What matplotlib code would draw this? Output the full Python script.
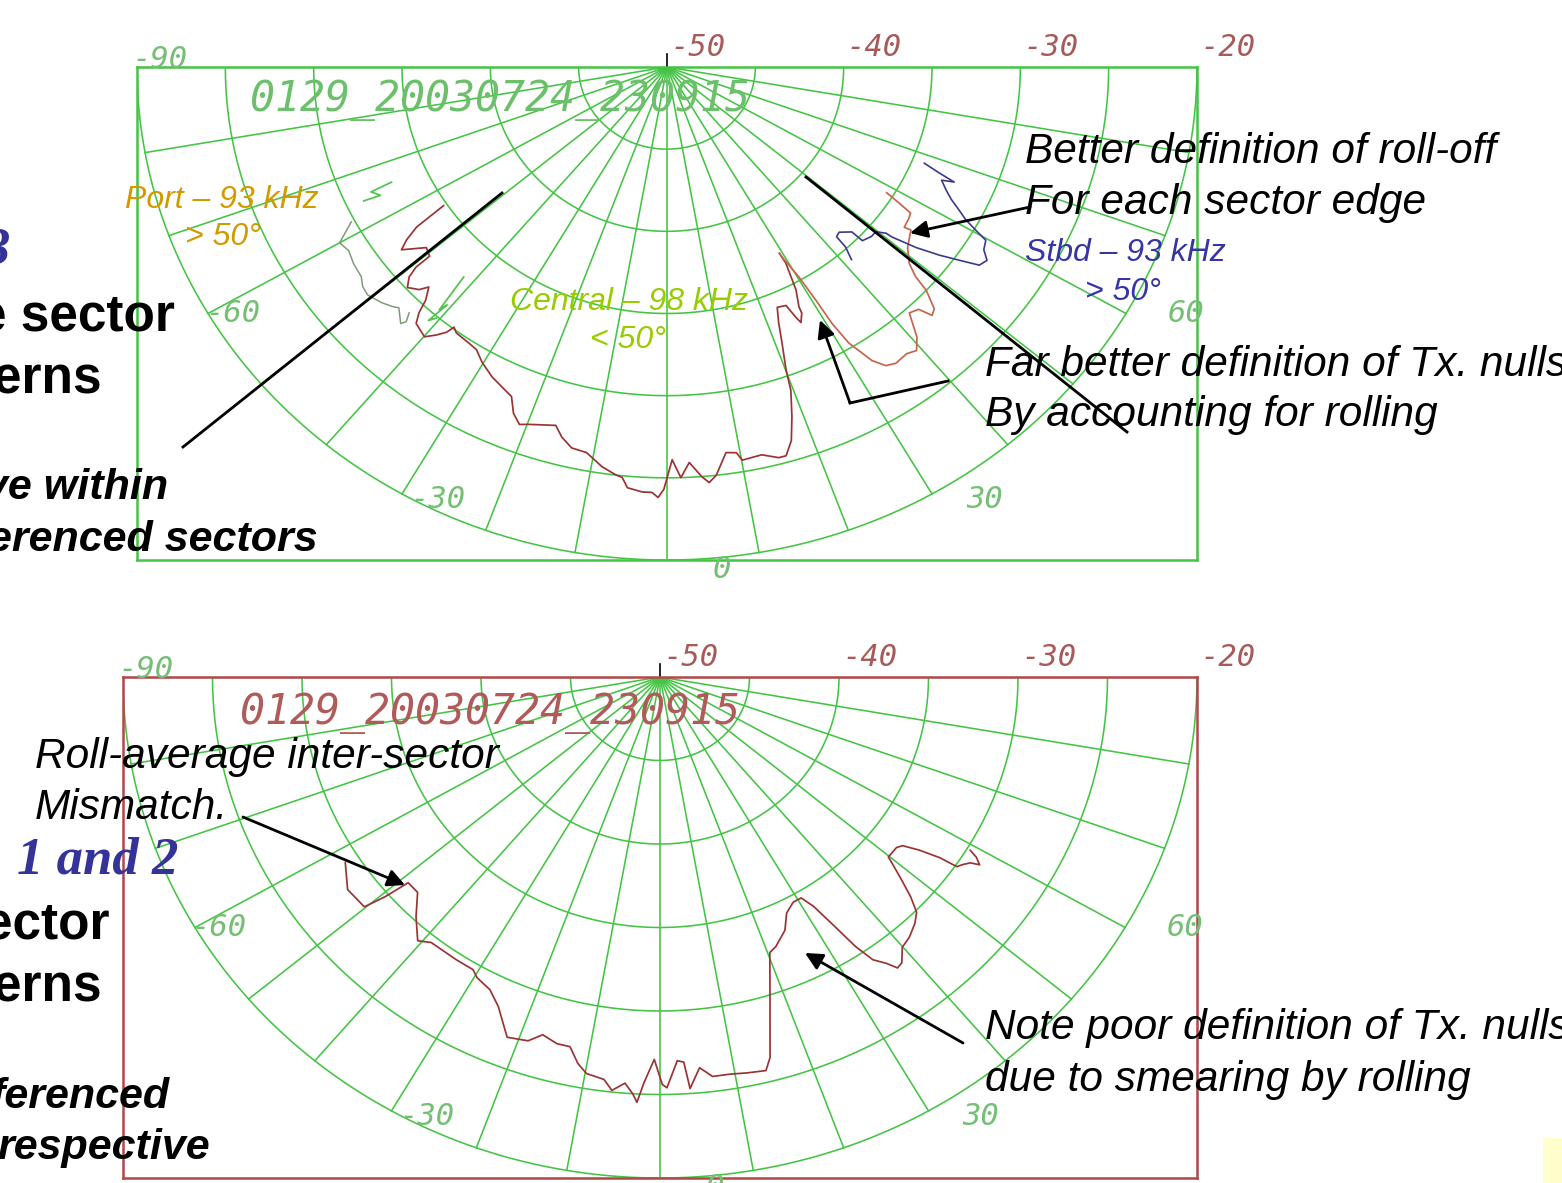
import numpy as np
import matplotlib.pyplot as plt
from matplotlib.patches import Rectangle

# beam patterns: angle (deg, 0 = nadir) and level (dB)
top_central_ang = [-56.3, -55.5, -54.5, -53.5, -51.1, -49.4, -49.4, -48.8, -47.6, -46.0,
                   -45.2, -43.9, -43.2, -42.3, -39.9, -38.7, -37.7, -37.3, -36.4, -33.7,
                   -32.1, -30.2, -27.7, -25.6, -23.7, -22.4, -21.0, -19.7, -16.1, -14.8,
                   -13.1, -11.0, -8.6, -6.6, -5.8, -5.0, -3.1, -1.9, -1.1, -0.4,
                   0.7, 1.8, 3.0, 4.5, 5.4, 6.4, 8.1, 9.5, 10.1, 12.8,
                   14.9, 15.9, 17.2, 18.4, 19.6, 20.1, 21.2, 22.1, 23.1, 24.9,
                   25.6, 26.0, 27.0, 27.1, 28.3, 29.4, 29.3, 29.4, 30.3, 30.7,
                   30.9, 31.5, 33.0, 34.3, 35.7, 37.9, 39.3, 40.7, 42.5, 44.0,
                   44.8, 45.8, 47.2, 47.8, 48.9, 51.1, 54.3, 54.0, 56.1, 57.2,
                   57.8, 58.4]
top_central_db = [-34.8, -32.8, -31.9, -31.3, -32.5, -32.3, -31.3, -30.6, -30.1, -30.5,
                  -31.0, -30.3, -29.5, -28.9, -28.6, -29.1, -29.6, -30.1, -29.9, -29.8,
                  -29.7, -29.2, -28.7, -28.4, -28.1, -27.2, -26.7, -26.9, -27.3, -26.7,
                  -26.2, -26.1, -25.4, -25.0, -24.9, -24.3, -24.1, -24.1, -23.8, -24.3,
                  -26.1, -25.0, -25.9, -25.0, -24.6, -25.0, -26.3, -26.2, -25.7, -25.8,
                  -25.4, -25.4, -26.2, -27.6, -29.1, -30.4, -32.0, -33.2, -34.1, -34.0,
                  -33.1, -32.7, -33.2, -33.6, -34.6, -36.3, -37.0, -36.7, -35.2, -33.5,
                  -31.8, -30.3, -28.7, -28.0, -27.8, -27.9, -27.7, -28.3, -29.7, -29.5,
                  -28.7, -28.9, -30.0, -31.0, -31.8, -32.5, -33.0, -33.4, -33.5, -33.6,
                  -34.5, -35.4]

top_port_ang = [-62.2, -60.0, -58.2, -56.0, -53.6, -52.2, -50.7, -48.4, -46.8, -46.0, -44.0, -43.6, -44.3]
top_port_db = [-29.8, -28.6, -28.8, -28.6, -28.5, -28.2, -28.1, -28.4, -28.7, -28.9, -28.3, -28.6, -29.1]

top_edge_ang = [-42.0, -41.1, -40.7, -41.2, -40.5]
top_edge_db = [-32.8, -30.4, -30.9, -29.5, -29.9]
top_tick_ang = [-65.8, -65.6, -64.3, -64.6]
top_tick_db = [-32.9, -31.6, -32.0, -31.0]

top_stbd_ang = [68.1, 67.3, 66.7, 66.1, 64.6, 63.4, 62.2, 61.2, 60.4, 59.7,
                58.2, 57.0, 55.7, 54.6, 53.4, 52.1, 50.9, 50.8, 49.7, 48.3,
                46.3, 46.2, 44.1, 42.9, 42.7, 41.7]
top_stbd_db = [-34.3, -33.3, -32.3, -33.0, -32.5, -32.0, -31.3, -30.7, -29.9, -29.1,
               -28.9, -28.4, -28.6, -29.7, -30.8, -32.1, -33.6, -34.0, -34.5, -34.5,
               -34.7, -35.5, -36.0, -35.9, -35.1, -34.3]

bot_ang = [-57.7, -53.9, -50.2, -49.4, -48.8, -46.4, -43.5, -40.6, -38.8, -33.9,
           -30.8, -29.6, -26.9, -24.6, -21.6, -18.7, -17.0, -14.7, -12.8, -11.2,
           -9.8, -7.4, -6.2, -4.6, -3.5, -2.9, -2.1, -0.8, 0.3, 0.9,
           2.4, 3.3, 3.9, 5.4, 7.0, 9.3, 11.6, 14.1, 15.1, 17.8,
           20.4, 21.8, 24.7, 26.6, 28.9, 30.8, 32.0, 33.2, 34.1, 35.1,
           36.4, 37.3, 38.3, 39.9, 41.8, 44.0, 45.5, 46.8, 48.2, 49.3,
           49.8, 52.3, 53.3, 54.4, 55.3, 55.6, 56.4, 57.3, 57.8, 58.6, 59.1]
bot_db = [-29.2, -28.4, -28.5, -29.8, -31.3, -31.3, -30.2, -29.2, -29.6, -29.6,
          -29.6, -29.3, -29.0, -28.3, -26.8, -27.0, -27.6, -27.3, -27.3, -26.4,
          -25.9, -25.7, -25.1, -25.6, -25.0, -24.5, -25.7, -27.1, -25.6, -25.4,
          -27.0, -26.9, -25.3, -26.5, -25.9, -25.9, -25.8, -25.7, -26.4, -29.9,
          -32.4, -32.6, -33.3, -34.2, -34.6, -34.6, -33.8, -32.1, -30.5, -29.3,
          -28.7, -28.1, -28.2, -28.9, -29.1, -29.5, -29.9, -30.8, -32.0, -32.9,
          -33.3, -33.3, -33.1, -32.2, -31.0, -29.9, -29.7, -29.4, -28.9, -29.3, -29.8]

db_ticks = [-50, -40, -30, -20]
ang_labels = [-90, -60, -30, 0, 30, 60]
file_id = '0129_20030724_230915'

W, H = 1562, 1183
fig = plt.figure(figsize=(W / 100, H / 100), dpi=100)

GRID = '#44c444'
R0 = -50
RMAX = 30
MONO = dict(family='DejaVu Sans Mono', style='italic', fontsize=22)
# pixel nudges for the angle labels (x right, y up)
ang_off = {-90: (-5, 7), -60: (-3, 0), -30: (8, -6), 0: (46, -10), 30: (34, -6), 60: (42, 0)}


def xy(ang, db):
    a = np.radians(np.asarray(ang, float))
    r = np.asarray(db, float) - R0
    return r * np.sin(a), -r * np.cos(a)


def panel(box, box_color):
    l, t, r, b = box
    ax = fig.add_axes([l / W, 1 - b / H, (r - l) / W, (b - t) / H])
    ax.set_xlim(-RMAX, RMAX)
    ax.set_ylim(-RMAX, 0)
    ax.set_xticks([])
    ax.set_yticks([])
    ax.patch.set_alpha(0)
    for s in ax.spines.values():
        s.set_color(box_color)
        s.set_linewidth(1.8)
    th = np.linspace(-90, 90, 361)
    for lev in range(R0 + 5, R0 + RMAX + 1, 5):
        x, y = xy(th, np.full_like(th, lev))
        ax.plot(x, y, color=GRID, lw=1.15)
    for a in range(-90, 91, 10):
        x, y = xy([a, a], [R0, R0 + RMAX])
        ax.plot(x, y, color=GRID, lw=1.15)
    for v in db_ticks:
        ax.annotate(str(v), xy=(v - R0, 0), xytext=(3, 5), textcoords='offset pixels',
                    ha='left', va='bottom', color='#a85a5a', annotation_clip=False, **MONO)
    for a in ang_labels:
        x, y = xy(a, R0 + RMAX)
        ax.annotate(str(a), xy=(float(x), float(y)), xytext=ang_off[a], textcoords='offset pixels',
                    ha='left', va='center', color='#74bf74', annotation_clip=False, **MONO)
    ax.plot([0, 0], [0, 0.8], color='k', lw=1.2, clip_on=False)
    return ax


top = panel((137, 67, 1197, 560), GRID)
x, y = xy(top_central_ang[:67], top_central_db[:67])
top.plot(x, y, color='#9a3434', lw=1.25)
x, y = xy(top_central_ang[66:], top_central_db[66:])
top.plot(x, y, color='#c8644e', lw=1.25)
x, y = xy(top_port_ang, top_port_db)
top.plot(x, y, color='#7f9c76', lw=1.1)
x, y = xy(top_edge_ang, top_edge_db)
top.plot(x, y, color='#55c455', lw=1.3)
x, y = xy(top_tick_ang, top_tick_db)
top.plot(x, y, color='#55c455', lw=1.3)
x, y = xy(top_stbd_ang, top_stbd_db)
top.plot(x, y, color='#3a3a8c', lw=1.2)

bot = panel((123, 677, 1197, 1178), '#b04848')
x, y = xy(bot_ang, bot_db)
bot.plot(x, y, color='#9a3434', lw=1.25)

# slide overlay in pixel coordinates
ov = fig.add_axes([0, 0, 1, 1], zorder=5)
ov.set_xlim(0, W)
ov.set_ylim(H, 0)
ov.axis('off')

SANS = ['Liberation Sans', 'DejaVu Sans']
SERIF = ['Liberation Serif', 'DejaVu Serif']

ov.text(500, 100, file_id, ha='center', va='center', color='#6cc06c',
        family='DejaVu Sans Mono', style='italic', fontsize=30)
ov.text(490, 713, file_id, ha='center', va='center', color='#b05a5a',
        family='DejaVu Sans Mono', style='italic', fontsize=30)

it = dict(family=SANS, style='italic', fontsize=30.5, va='center', ha='left')
ov.text(1025, 152, 'Better definition of roll-off', **it)
ov.text(1025, 203, 'For each sector edge', **it)
ov.text(985, 365, 'Far better definition of Tx. nulls', **it)
ov.text(985, 415, 'By accounting for rolling', **it)
ov.text(35, 757, 'Roll-average inter-sector', **it)
ov.text(35, 808, 'Mismatch.', **it)
ov.text(985, 1028, 'Note poor definition of Tx. nulls', **it)
ov.text(985, 1080, 'due to smearing by rolling', **it)

lab = dict(family=SANS, style='italic', fontsize=23, va='center', ha='left')
ov.text(125, 200, 'Port – 93 kHz', color='#d09a00', **lab)
ov.text(185, 237, '> 50°', color='#d09a00', **lab)
ov.text(510, 302, 'Central – 98 kHz', color='#99cc00', **lab)
ov.text(590, 340, '< 50°', color='#99cc00', **lab)
ov.text(1025, 253, 'Stbd – 93 kHz', color='#3535a5', **lab)
ov.text(1085, 292, '> 50°', color='#3535a5', **lab)

bold = dict(family=SANS, weight='bold', fontsize=37, va='center', ha='right')
ov.text(175, 317, 'e sector', **bold)
ov.text(102, 380, 'erns', **bold)
ov.text(110, 925, 'ector', **bold)
ov.text(102, 988, 'erns', **bold)
bi = dict(family=SANS, weight='bold', style='italic', fontsize=31, va='center', ha='right')
ov.text(168, 488, 've within', **bi)
ov.text(318, 540, 'erenced sectors', **bi)
ov.text(170, 1097, 'ferenced', **bi)
ov.text(210, 1148, 'respective', **bi)
blue = dict(family=SERIF, weight='bold', style='italic', fontsize=38, va='center', ha='right', color='#333399')
ov.text(10, 250, '3', **blue)
ov.text(178, 860, '1 and 2', **blue)

ov.plot([183, 502], [447, 193], color='k', lw=2)
ov.plot([806, 1127], [177, 432], color='k', lw=2)
ov.plot([948, 850], [381, 403], color='k', lw=2)
arr = dict(arrowstyle='-|>', color='k', lw=2, mutation_scale=26, shrinkA=0, shrinkB=0)
ov.annotate('', xy=(910, 233), xytext=(1030, 207), arrowprops=arr)
ov.annotate('', xy=(820, 320), xytext=(850, 403), arrowprops=arr)
ov.annotate('', xy=(405, 885), xytext=(243, 817), arrowprops=arr)
ov.annotate('', xy=(805, 953), xytext=(963, 1043), arrowprops=arr)

ov.add_patch(Rectangle((1543, 1138), 30, 60, color='#ffffcc', lw=0))

fig.savefig('out.png', dpi=100)
